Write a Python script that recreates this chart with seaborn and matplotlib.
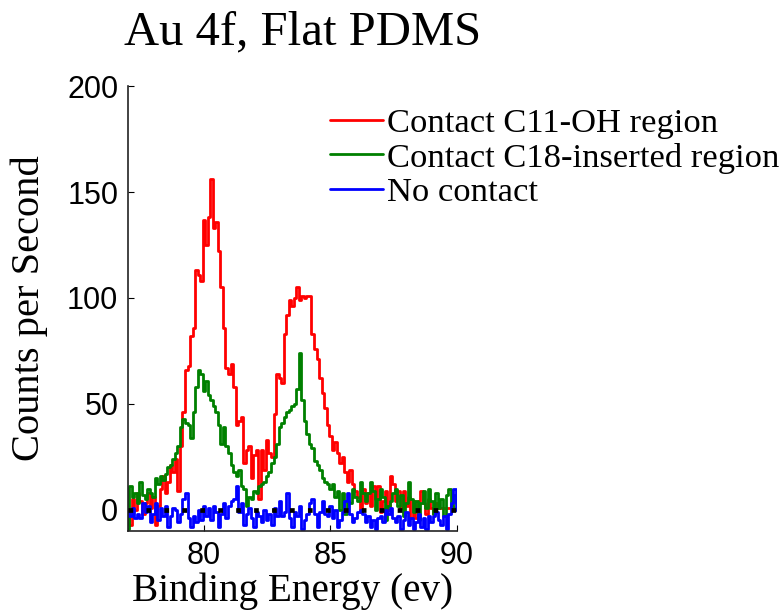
import numpy as np
import pandas as pd
import matplotlib
matplotlib.use("Agg")
import matplotlib.pyplot as plt
import seaborn as sns

# Binding energy grid (eV), 0.1 eV steps from 77 to 90
energy = [round(77.0 + 0.1 * i, 1) for i in range(131)]

# Counts per second
c11_oh = [
    -4, -7, 5, 0, 8, 4, -2, 3, 8, 1,
    6, -7, 2, 10, 16, 8, 13, 21, 18, 24,
    9, 30, 46, 66, 68, 82, 86, 113, 111, 108,
    137, 125, 138, 156, 133, 136, 122, 105, 86, 67,
    64, 69, 58, 40, 42, 44, 22, 28, 30, 15,
    26, 28, 5, 28, 19, 33, 27, 25, 45, 64,
    62, 60, 83, 92, 99, 96, 100, 105, 99, 101,
    100, 101, 101, 83, 76, 71, 62, 55, 48, 40,
    35, 28, 32, 27, 22, 25, 18, 13, 19, 12,
    9, 6, -1, 10, 3, 8, 2, 11, 5, 11,
    -1, 4, 9, 0, 16, 12, 4, 9, 1, 9,
    2, 6, -4, 4, -4, 4, 9, 3, -2, 5,
    1, -2, 3, 1, 1, 1, 1, 1, 2, 1,
    1,
]
c18_inserted = [
    -9, 11, 6, 8, 3, 13, 7, 5, 10, 8,
    6, 15, 12, 16, 14, 17, 20, 21, 24, 27,
    30, 39, 43, 41, 40, 34, 46, 58, 66, 64,
    56, 61, 54, 52, 49, 46, 40, 31, 39, 30,
    27, 21, 18, 16, 19, 11, 10, 2, 6, 5,
    9, 8, 11, 12, 13, 16, 18, 22, 25, 31,
    39, 41, 44, 46, 47, 49, 50, 57, 74, 52,
    42, 36, 31, 29, 23, 21, 19, 15, 13, 12,
    10, 12, 6, 9, 0, 8, -2, 4, 3, 10,
    6, 4, 13, 8, 4, 8, 13, 9, 0, 5,
    10, 6, -5, 2, 4, 8, 10, 2, 7, -3,
    3, 13, 5, -1, 4, -5, 3, 9, 1, 10,
    4, -2, 8, 1, 5, -3, 7, 10, 1, 7,
    3,
]
no_contact = [
    -1, -3, 1, -4, -2, -4, 3, -1, 2, -6,
    -2, 3, -5, 1, -3, 2, -8, -3, 1, 0,
    -6, -2, 5, 8, -4, -8, -3, -6, 0, -5,
    2, -3, 1, -5, 2, -1, -8, -2, 3, -4,
    2, 4, 5, 11, -1, 3, -7, -2, 1, -4,
    -8, -1, -3, -6, 0, -5, -2, -7, 1, -3,
    4, -3, -1, 8, -4, -8, -1, -3, 2, -9,
    -5, -2, 3, 5, -2, -8, -1, 4, -2, -3,
    2, -4, 0, -8, -5, -1, 4, 8, -2, -6,
    -4, -1, 0, -2, -6, -3, -8, -5, -9, -4,
    -3, -6, 0, -2, 1, -4, -6, -3, -9, -5,
    -1, -7, -4, -9, -6, -2, -8, -4, -9, -3,
    -6, -3, -1, -5, -7, -3, -9, -2, 3, 10,
    0,
]

labels = ["Contact C11-OH region", "Contact C18-inserted region", "No contact"]
colors = ["#ff0000", "#008000", "#0000ff"]

df = pd.concat([
    pd.DataFrame({"energy": energy, "cps": vals, "series": lab})
    for vals, lab in zip([c11_oh, c18_inserted, no_contact], labels)
], ignore_index=True)

sns.set_style("ticks")
plt.rcParams.update({
    "font.family": ["Liberation Serif", "DejaVu Serif"],
    "text.color": "black",
    "axes.labelcolor": "black",
    "xtick.color": "black",
    "ytick.color": "black",
    "xtick.direction": "in",
    "ytick.direction": "in",
})

fig = plt.figure(figsize=(7.81, 6.11), dpi=100)
ax = fig.add_axes([0.164, 0.131, 0.421, 0.728])

sns.lineplot(data=df, x="energy", y="cps", hue="series",
             palette=dict(zip(labels, colors)), hue_order=labels,
             linewidth=2.0, ax=ax, sort=False, drawstyle="steps-mid")
ax.axhline(0, color="black", linewidth=3.4, linestyle=(0, (1.0, 2.8)), zorder=5)

ax.set_xlim(77, 90)
ax.set_ylim(-10, 200)
ax.set_xticks([80, 85, 90])
ax.set_yticks([0, 50, 100, 150, 200])
for lab in ax.get_xticklabels() + ax.get_yticklabels():
    lab.set_family(["Liberation Sans", "DejaVu Sans"])
ax.tick_params(labelsize=22, length=4, width=0.8, pad=7)

sns.despine(ax=ax)
for side in ["left", "bottom"]:
    ax.spines[side].set_linewidth(1.2)
    ax.spines[side].set_color("#222222")

ax.set_title("Au 4f, Flat PDMS", fontsize=35, pad=30, x=0.53)
ax.set_xlabel("Binding Energy (ev)", fontsize=28.2, labelpad=1)
ax.set_ylabel("Counts per Second", fontsize=29.2, labelpad=14)

sns.move_legend(ax, loc="upper left", bbox_to_anchor=(0.405, 0.846),
                bbox_transform=fig.transFigure, title=None, frameon=False,
                fontsize=24.8, handlelength=1.55, handletextpad=0.1,
                labelspacing=0.1, borderaxespad=0)
leg = ax.get_legend()
for line in leg.get_lines():
    line.set_linewidth(2.0)

fig.savefig("out.png", dpi=100, facecolor="white")
